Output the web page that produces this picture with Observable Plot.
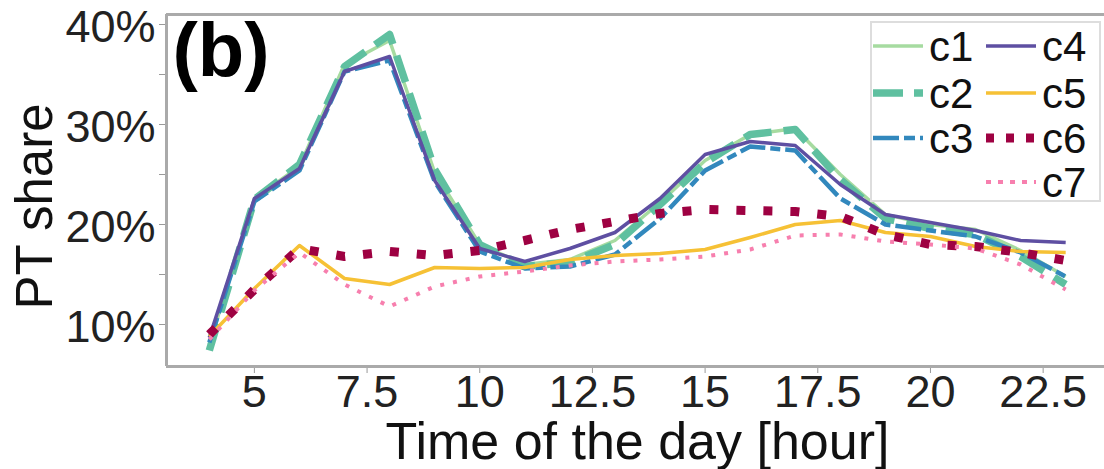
<!DOCTYPE html>
<html>
<head>
<meta charset="utf-8">
<script src="https://cdn.jsdelivr.net/npm/d3@7"></script>
<script src="https://cdn.jsdelivr.net/npm/@observablehq/plot@0.6"></script>
<style>
  body { margin: 0; background: #fff; }
  #wrap { position: relative; width: 1104px; height: 469px; overflow: hidden; }
  g[aria-label="x-axis tick"], g[aria-label="y-axis tick"] { stroke: #999; }
  #legend { position: absolute; }
</style>
</head>
<body>
<div id="wrap"></div>
<script>
// ---- data ----
const hours = [4,5,6,7,8,9,10,11,12,13,14,15,16,17,18,19,20,21,22,23];
const c1 = [8.0, 22.6, 25.8, 36.0, 38.4, 25.2, 18.0, 16.0, 16.5, 18.4, 22.2, 26.4, 29.0, 29.6, 25.0, 21.0, 20.0, 19.5, 17.4, 14.8];
const c2 = [7.4, 22.5, 26.0, 35.8, 39.0, 25.5, 18.0, 15.8, 16.2, 18.0, 22.0, 26.2, 29.0, 29.5, 24.5, 20.6, 19.6, 19.0, 16.8, 14.0];
const c3 = [8.2, 22.3, 25.4, 35.3, 36.4, 24.3, 17.3, 15.6, 15.8, 17.0, 20.6, 25.4, 27.8, 27.4, 22.6, 20.0, 19.4, 18.8, 17.2, 14.8];
const c4 = [8.7, 22.6, 25.6, 35.3, 36.8, 24.4, 17.6, 16.3, 17.6, 19.2, 22.6, 27.0, 28.3, 27.9, 24.0, 21.0, 20.2, 19.4, 18.4, 18.2];
const c5 = [8.8, 13.6, 17.9, 14.6, 14.0, 15.7, 15.6, 15.7, 16.5, 16.9, 17.1, 17.5, 18.7, 20.0, 20.4, 19.2, 18.8, 17.8, 17.3, 17.2];
const c6 = [9.0, 13.5, 17.6, 16.8, 17.3, 16.9, 17.4, 18.4, 19.5, 20.3, 21.1, 21.5, 21.4, 21.3, 20.8, 19.0, 18.0, 17.8, 17.2, 16.4];
const c7 = [8.5, 13.4, 17.2, 14.0, 11.8, 13.8, 14.8, 15.3, 15.9, 16.3, 16.5, 16.8, 17.5, 18.9, 19.0, 18.3, 18.0, 17.6, 16.0, 13.5];
const seriesNames = ["c1","c2","c3","c4","c5","c6","c7"];
const seriesValues = [c1,c2,c3,c4,c5,c6,c7];
const xTicks = [5, 7.5, 10, 12.5, 15, 17.5, 20, 22.5];
const yTicks = [10, 15, 20, 25, 30, 35, 40];
const yLabeled = [10, 20, 30, 40];
const panelLabel = "(b)";
const xLabel = "Time of the day [hour]";
const yLabel = "PT share";

// ---- styles ----
const styles = {
  c1: {stroke: "#a6dba0", strokeWidth: 3.5, dash: null},
  c2: {stroke: "#5fc0a0", strokeWidth: 7.5, dash: "28,12"},
  c3: {stroke: "#3288bd", strokeWidth: 4.5, dash: "26,5,10,5"},
  c4: {stroke: "#5e4fa2", strokeWidth: 3.5, dash: null},
  c5: {stroke: "#f6c135", strokeWidth: 3.5, dash: null},
  c6: {stroke: "#9e0142", strokeWidth: 9, dash: "9,18"},
  c7: {stroke: "#f77fae", strokeWidth: 4, dash: "4,9"}
};

const xDomain = [3.05, 23.95];
const yDomain = [5.8, 41.0];

const lineMarks = seriesNames.map((name, i) => {
  const data = hours.map((h, j) => ({hour: h, value: seriesValues[i][j]}));
  const s = styles[name];
  return Plot.line(data, {
    x: "hour", y: "value",
    stroke: s.stroke, strokeWidth: s.strokeWidth,
    strokeDasharray: s.dash, strokeLinecap: "butt", strokeLinejoin: "round"
  });
});

const chart = Plot.plot({
  width: 1104,
  height: 469,
  marginLeft: 166,
  marginRight: -4,
  marginTop: 14,
  marginBottom: 103,
  style: {fontFamily: "'Liberation Sans', Arial, sans-serif", fontSize: "45px", color: "#222", background: "#fff"},
  x: {domain: xDomain, ticks: xTicks, tickFormat: d => String(d), tickSize: 7, tickPadding: 2, label: null},
  y: {domain: yDomain, ticks: yTicks, tickFormat: d => yLabeled.includes(d) ? d + "%" : "", tickSize: 7, tickPadding: 4, label: null},
  marks: [
    ...lineMarks,
    Plot.ruleY([yDomain[0], yDomain[1]], {stroke: "#aaa", strokeWidth: 3}),
    Plot.ruleX([xDomain[0]], {stroke: "#aaa", strokeWidth: 3}),
    Plot.text([panelLabel], {frameAnchor: "top-left", textAnchor: "start", lineAnchor: "top", dx: 6, dy: 8, fontSize: 76, fontWeight: "bold", fill: "#000"}),
    Plot.text([xLabel], {frameAnchor: "bottom", textAnchor: "middle", lineAnchor: "top", dy: 56, fontSize: 52, fill: "#111"}),
    Plot.text([yLabel], {frameAnchor: "left", textAnchor: "middle", lineAnchor: "middle", dx: -131, dy: 16, rotate: -90, fontSize: 51, fill: "#111"})
  ]
});
const wrap = document.getElementById("wrap");
wrap.appendChild(chart);
// nudge y tick labels slightly down (3px) as in the reference
d3.select(chart).selectAll('g[aria-label="y-axis tick label"] text').each(function() {
  const t = this.getAttribute("transform") || "";
  this.setAttribute("transform", "translate(0,3) " + t);
});

// ---- legend overlay ----
const legendItems = [
  {name: "c1", col: 0, row: 0}, {name: "c2", col: 0, row: 1}, {name: "c3", col: 0, row: 2},
  {name: "c4", col: 1, row: 0}, {name: "c5", col: 1, row: 1}, {name: "c6", col: 1, row: 2}, {name: "c7", col: 1, row: 3}
];
const legendDash = {c2: "30,11", c3: "26,5,11,5", c6: "8,12", c7: "5,7"};
const lg = d3.select(wrap).append("svg")
  .attr("id", "legend")
  .attr("width", 234).attr("height", 192)
  .style("left", "870px").style("top", "21px");
lg.append("rect").attr("x", 1).attr("y", 1).attr("width", 229).attr("height", 179)
  .attr("fill", "rgba(255,255,255,0.85)").attr("stroke", "#ddd").attr("stroke-width", 2);
const colX = [3, 116];
const rowY = [25, 72, 117, 161];
legendItems.forEach(it => {
  const s = styles[it.name];
  const x0 = colX[it.col], y0 = rowY[it.row];
  lg.append("line").attr("x1", x0).attr("x2", x0 + 50).attr("y1", y0).attr("y2", y0)
    .attr("stroke", s.stroke).attr("stroke-width", s.strokeWidth)
    .attr("stroke-dasharray", legendDash[it.name] || null);
  lg.append("text").attr("x", x0 + 56).attr("y", y0).attr("dy", "0.36em")
    .attr("font-family", "'Liberation Sans', Arial, sans-serif").attr("font-size", 42)
    .attr("fill", "#111").text(it.name);
});
</script>
</body>
</html>
